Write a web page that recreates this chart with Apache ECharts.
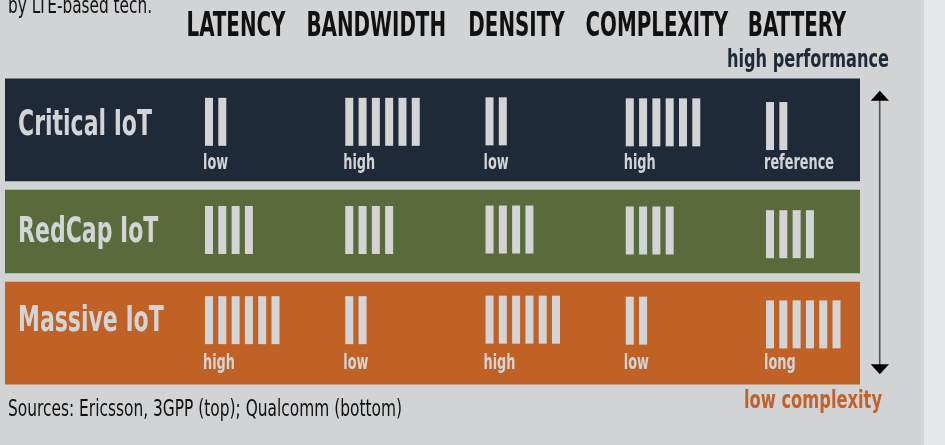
<!DOCTYPE html>
<html><head><meta charset="utf-8">
<script src="https://cdn.jsdelivr.net/npm/echarts@6/dist/echarts.min.js"></script>
<style>html,body{margin:0;padding:0;background:#d2d3d5;overflow:hidden}#c{width:945px;height:445px}</style>
</head><body><div id="c"></div><script>
// ---------- DATA ----------
const categories = ['LATENCY', 'BANDWIDTH', 'DENSITY', 'COMPLEXITY', 'BATTERY'];
const rows = ['Critical IoT', 'RedCap IoT', 'Massive IoT'];
const criticalBars = [2, 6, 2, 6, 2];
const redcapBars = [4, 4, 4, 4, 4];
const massiveBars = [6, 2, 6, 2, 6];
const criticalLabels = ['low', 'high', 'low', 'high', 'reference'];
const redcapLabels = ['', '', '', '', ''];
const massiveLabels = ['high', 'low', 'high', 'low', 'long'];
const subtitle = 'by LTE-based tech.';
const sourceNote = 'Sources: Ericsson, 3GPP (top); Qualcomm (bottom)';
const topNote = 'high performance';
const bottomNote = 'low complexity';

// ---------- STYLE ----------
const FF = "'Liberation Sans Narrow','DejaVu Sans Condensed','Liberation Sans',sans-serif";
const rowColors = ['#1f2a38', '#5a6b3b', '#c06226'];
const barColor = '#d3d4d6';
const BAR_W = 8, BAR_PITCH = 13.3, BAR_H = 48;
const barTopOff = [-32, -25.5, -37];      // relative to row centre
const catBarShift = [0, 0, -0.5, 0.5, 4.2];
const valBaseOff = [39.5, 0, 36];
const rowLabelBase = [6.5, 11.5, -1];
// top-aligned text: glyph baseline sits ~0.79 em below the anchor
function topY(baseline, fs) { return baseline - 0.79 * fs; }

const mctx = document.createElement('canvas').getContext('2d');
function fit(text, font, target) { mctx.font = font; return target / mctx.measureText(text).width; }
const fHead = 'bold 34px ' + FF, sHead = fit('LATENCY', fHead, 99);
const fRow = 'bold 36px ' + FF, sRow = fit('Critical IoT', fRow, 134);
const fVal = 'bold 21px ' + FF, sVal = fit('reference', fVal, 70);
const fTop = 'bold 25px ' + FF, sTop = fit(topNote, fTop, 162);
const fBot = 'bold 24px ' + FF, sBot = fit(bottomNote, fBot, 138);
const fSrc = '23px ' + FF, sSrc = fit(sourceNote, fSrc, 394);
const fSub = '23px ' + FF, sSub = fit(subtitle, fSub, 144);

const barsByRow = [criticalBars, redcapBars, massiveBars];
const labelsByRow = [criticalLabels, redcapLabels, massiveLabels];
const cellData = [];
rows.forEach((r, ri) => categories.forEach((c, ci) => cellData.push([ci, ri, barsByRow[ri][ci]])));
const panelData = rows.map((r, ri) => [0, ri]);
const headerData = categories.map((c, ci) => [ci, 0]);

const chart = echarts.init(document.getElementById('c'), null, { renderer: 'canvas' });
chart.setOption({
  backgroundColor: '#d2d3d5',
  animation: false,
  grid: { left: 5, right: 85, top: 79, bottom: 61 },
  xAxis: { type: 'value', min: -1.426, max: 4.67, show: false },
  yAxis: { type: 'category', data: rows, inverse: true, show: false },
  graphic: [
    { type: 'rect', shape: { x: 924, y: 0, width: 21, height: 445 }, style: { fill: '#e6e7e9' }, silent: true },
    { type: 'line', shape: { x1: 879.7, y1: 99, x2: 879.7, y2: 366 }, style: { stroke: '#555', lineWidth: 1.6 } },
    { type: 'polygon', shape: { points: [[870.7, 100.7], [889, 100.7], [879.8, 90.7]] }, style: { fill: '#000' } },
    { type: 'polygon', shape: { points: [[870.7, 364.3], [889, 364.3], [879.8, 374.3]] }, style: { fill: '#000' } },
    { type: 'text', x: 8, y: topY(13.5, 23), scaleX: sSub, style: { text: subtitle, font: fSub, fill: '#111', verticalAlign: 'top' } },
    { type: 'text', x: 727, y: topY(68, 25), scaleX: sTop, style: { text: topNote, font: fTop, fill: '#1f2a38', verticalAlign: 'top' } },
    { type: 'text', x: 744, y: topY(408.5, 24), scaleX: sBot, style: { text: bottomNote, font: fBot, fill: '#c0622a', verticalAlign: 'top' } },
    { type: 'text', x: 8, y: topY(416.5, 23), scaleX: sSrc, style: { text: sourceNote, font: fSrc, fill: '#111', verticalAlign: 'top' } }
  ],
  series: [
    {
      type: 'custom', name: 'panels', data: panelData, z: 1,
      renderItem: function (params, api) {
        const ri = api.value(1);
        const cs = params.coordSys;
        const cy = api.coord([0, ri])[1];
        const band = api.size([0, 1])[1];
        const hasLabels = labelsByRow[ri].some(l => l);
        const h = hasLabels ? band + 1 : band - 18;
        return {
          type: 'group', children: [
            { type: 'rect', shape: { x: cs.x, y: cy - h / 2, width: cs.width, height: h }, style: { fill: rowColors[ri] } },
            { type: 'text', x: cs.x + 13, y: topY(cy + rowLabelBase[ri], 36), scaleX: sRow,
              style: { text: rows[ri], font: fRow, fill: barColor, verticalAlign: 'top' } }
          ]
        };
      }
    },
    {
      type: 'custom', name: 'headers', data: headerData, z: 2,
      renderItem: function (params, api) {
        const ci = api.value(0);
        const x = api.coord([ci + 0.221, 0])[0];
        const top = params.coordSys.y;
        return { type: 'text', x: x, y: topY(top - 42, 34), scaleX: sHead,
          style: { text: categories[ci], font: fHead, fill: '#111', align: 'center', verticalAlign: 'top' } };
      }
    },
    {
      type: 'custom', name: 'bars', data: cellData, z: 3,
      renderItem: function (params, api) {
        const ci = api.value(0), ri = api.value(1), n = api.value(2);
        const p = api.coord([ci, ri]);
        const children = [];
        const top = p[1] + barTopOff[ri] + catBarShift[ci];
        for (let k = 0; k < n; k++) {
          children.push({ type: 'rect', shape: { x: p[0] + k * BAR_PITCH, y: top, width: BAR_W, height: BAR_H }, style: { fill: barColor } });
        }
        const lab = labelsByRow[ri][ci];
        if (lab) {
          children.push({ type: 'text', x: p[0] - 2, y: topY(p[1] + valBaseOff[ri], 21), scaleX: sVal,
            style: { text: lab, font: fVal, fill: barColor, verticalAlign: 'top' } });
        }
        return { type: 'group', children: children };
      }
    }
  ]
});
</script></body></html>
